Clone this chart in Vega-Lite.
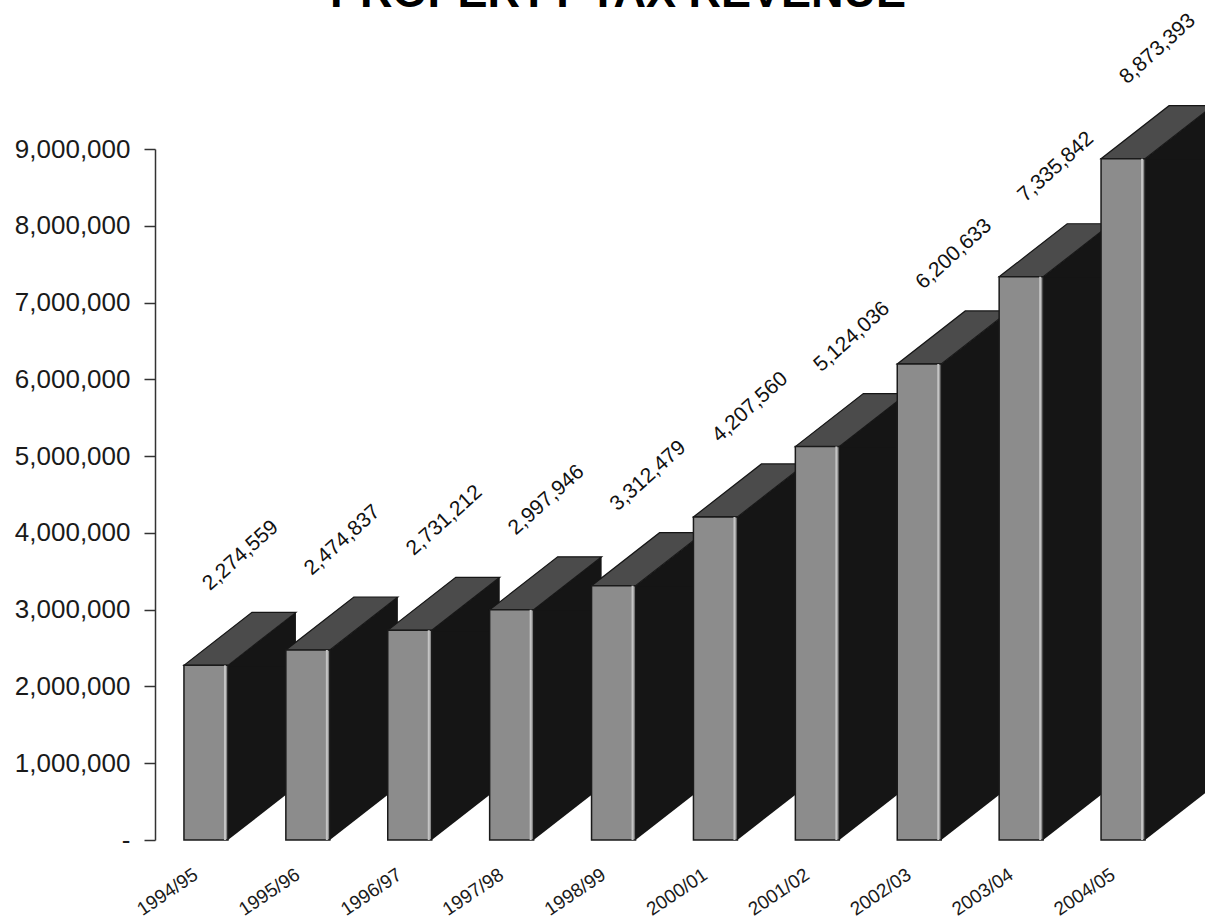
{
  "$schema": "https://vega.github.io/schema/vega-lite/v6.json",
  "width": 1019,
  "height": 691,
  "autosize": {"type": "none"},
  "padding": {"left": 155, "top": 149, "right": 31, "bottom": 79},
  "background": "white",
  "title": {
    "text": "PROPERTY TAX REVENUE",
    "font": "Liberation Sans",
    "fontSize": 45,
    "fontWeight": "bold",
    "color": "#000000",
    "anchor": "start",
    "frame": "group",
    "dx": 175,
    "dy": 6,
    "offset": 0
  },
  "config": {"view": {"stroke": null}},
  "data": {
    "values": [
      {"year": "1994/95", "revenue": 2274559},
      {"year": "1995/96", "revenue": 2474837},
      {"year": "1996/97", "revenue": 2731212},
      {"year": "1997/98", "revenue": 2997946},
      {"year": "1998/99", "revenue": 3312479},
      {"year": "2000/01", "revenue": 4207560},
      {"year": "2001/02", "revenue": 5124036},
      {"year": "2002/03", "revenue": 6200633},
      {"year": "2003/04", "revenue": 7335842},
      {"year": "2004/05", "revenue": 8873393}
    ]
  },
  "encoding": {
    "x": {
      "field": "year",
      "type": "nominal",
      "sort": null,
      "title": null,
      "scale": {"paddingInner": 0, "paddingOuter": 0},
      "axis": {
        "domain": false,
        "ticks": false,
        "tickSize": 0,
        "labelAngle": -34,
        "labelAlign": "right",
        "labelBaseline": "top",
        "labelOffset": -15,
        "labelPadding": 25,
        "labelFont": "Liberation Sans",
        "labelFontSize": 19,
        "labelColor": "#1a1a1a",
        "grid": false
      }
    },
    "y": {
      "field": "revenue",
      "type": "quantitative",
      "title": null,
      "scale": {"domain": [0, 9000000], "nice": false},
      "axis": {
        "values": [0, 1000000, 2000000, 3000000, 4000000, 5000000, 6000000, 7000000, 8000000, 9000000],
        "labelExpr": "datum.value == 0 ? '-' : format(datum.value, ',')",
        "grid": false,
        "domainColor": "#333333",
        "domainWidth": 1.5,
        "tickColor": "#333333",
        "tickWidth": 1.5,
        "tickSize": 11,
        "labelPadding": 14,
        "labelFont": "Liberation Sans",
        "labelFontSize": 26,
        "labelColor": "#1a1a1a"
      }
    }
  },
  "layer": [
    {
      "mark": {"type": "bar", "width": 68, "xOffset": 56, "y2Offset": -53, "fill": "#151515"},
      "encoding": {"y2": {"datum": 0}}
    },
    {
      "mark": {"type": "point", "shape": "M22,0L90,-53L90,1L22,1Z", "size": 4, "filled": true, "fill": "#151515", "opacity": 1, "strokeWidth": 0}
    },
    {
      "mark": {"type": "point", "shape": "M22,-54L22,0L90,-53L90,-54Z", "size": 4, "filled": true, "fill": "#151515", "opacity": 1, "strokeWidth": 0},
      "encoding": {"y": {"datum": 0}}
    },
    {
      "mark": {"type": "point", "shape": "M-22,0L22,0L90,-53L46,-53Z", "size": 4, "filled": true, "fill": "#4b4b4b", "stroke": "#161616", "strokeWidth": 1.2, "opacity": 1}
    },
    {
      "mark": {"type": "bar", "width": 44, "fill": "#8c8c8c", "stroke": "#1a1a1a", "strokeWidth": 1.5}
    },
    {
      "mark": {"type": "bar", "width": 2, "xOffset": 19, "fill": "#c4c4c4"}
    },
    {
      "mark": {
        "type": "text",
        "align": "left",
        "baseline": "alphabetic",
        "angle": 318,
        "xOffset": 4,
        "yOffset": -74,
        "font": "Liberation Sans",
        "fontSize": 21,
        "fill": "#111111"
      },
      "encoding": {"text": {"field": "revenue", "type": "quantitative", "format": ","}}
    }
  ]
}
